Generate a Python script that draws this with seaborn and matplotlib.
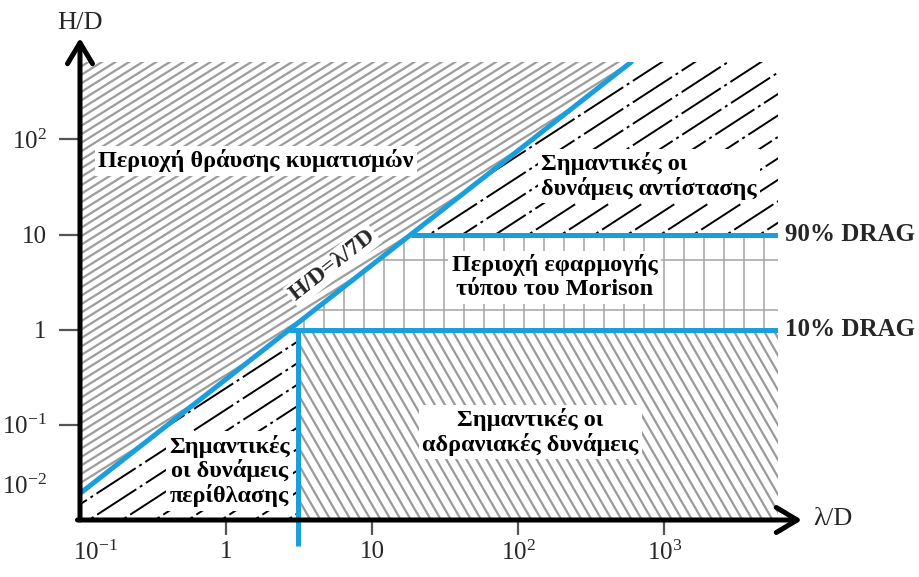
import numpy as np
import matplotlib
matplotlib.use("Agg")
import matplotlib.pyplot as plt
import matplotlib.transforms as mtransforms
from matplotlib.collections import LineCollection
from matplotlib.patches import Polygon
import seaborn as sns

# ---- data -----------------------------------------------------------------
# axis ranges (λ/D horizontally, H/D vertically)
lam_range = [0.1, 6000]
hd_range = [0.01, 650]

# tick values and their labels
lam_ticks = [0.1, 1, 10, 100, 1000]
lam_tick_labels = [r"$10^{-1}$", "1", "10", r"$10^{2}$", r"$10^{3}$"]
hd_ticks = [0.01, 0.1, 1, 10, 100]
hd_tick_labels = [r"$10^{-2}$", r"$10^{-1}$", "1", "10", r"$10^{2}$"]

# wave breaking boundary (labelled H/D=λ/7D); end points of the schematic
# line, which is sketched rather than drawn to scale
break_lam = [0.1, 594]
break_hd = [0.019, 650]

# diffraction limit
diffraction_lam = 3.1

# drag share levels
drag_hd = [1, 10]
drag_labels = ["10% DRAG", "90% DRAG"]

# row lines inside the Morison band
morison_grid_hd = [1.6, 5.4]

# ---- style ----------------------------------------------------------------
sns.set_theme(style="white")
plt.rcParams["font.family"] = ["Liberation Serif", "DejaVu Serif"]
plt.rcParams["mathtext.fontset"] = "custom"
plt.rcParams["mathtext.rm"] = "Liberation Serif"
plt.rcParams["mathtext.it"] = "Liberation Serif:italic"
plt.rcParams["mathtext.bf"] = "Liberation Serif:bold"

BLUE = "#1a9fdc"
FIG_W, FIG_H = 920, 577
AX_X0, AX_X1, AX_Y0, AX_Y1 = 80, 778, 62, 520  # axes box in pixels
AX_W, AX_H = AX_X1 - AX_X0, AX_Y1 - AX_Y0

fig = plt.figure(figsize=(FIG_W / 100, FIG_H / 100), dpi=100)
ax = fig.add_axes([AX_X0 / FIG_W, 1 - AX_Y1 / FIG_H, AX_W / FIG_W, AX_H / FIG_H])
ax.set_xscale("log")
ax.set_yscale("log")
ax.set_xlim(lam_range)
ax.set_ylim(hd_range)
for s in ax.spines.values():
    s.set_visible(False)


def break_lam_at(hd):
    return 10 ** np.interp(np.log10(hd), np.log10(break_hd), np.log10(break_lam))


def hatch_region(verts, angle, spacing, color, lw, ls="-", zorder=2):
    """Fill a polygon white and cover it with parallel lines at a pixel angle."""
    patch = Polygon(verts, closed=True, facecolor="white", edgecolor="none",
                    zorder=zorder - 0.5)
    ax.add_patch(patch)
    t = np.deg2rad(angle)
    d = np.array([np.cos(t), np.sin(t)])
    n = np.array([-np.sin(t), np.cos(t)])
    c = np.array([AX_W / 2, AX_H / 2])
    half = np.hypot(AX_W, AX_H)
    scale = np.array([AX_W, AX_H])
    segs = []
    for k in np.arange(-half, half + spacing, spacing):
        p0 = c + k * n - half * d
        p1 = c + k * n + half * d
        segs.append([p0 / scale, p1 / scale])
    lc = LineCollection(segs, colors=color, linewidths=lw, linestyles=[ls],
                        transform=ax.transAxes, zorder=zorder)
    ax.add_collection(lc, autolim=False)
    lc.set_clip_path(patch)
    return patch


lam_lo, lam_hi = lam_range
hd_lo, hd_hi = hd_range
lam1 = break_lam_at(drag_hd[0])
lam10 = break_lam_at(drag_hd[1])

breaking = [(lam_lo, break_hd[0]), (break_lam[1], hd_hi), (lam_lo, hd_hi)]
drag = [(lam10, drag_hd[1]), (break_lam[1], hd_hi), (lam_hi, hd_hi), (lam_hi, drag_hd[1])]
morison = [(lam1, drag_hd[0]), (lam10, drag_hd[1]), (lam_hi, drag_hd[1]), (lam_hi, drag_hd[0])]
diffraction = [(lam_lo, hd_lo), (lam_lo, break_hd[0]), (lam1, drag_hd[0]),
               (diffraction_lam, drag_hd[0]), (diffraction_lam, hd_lo)]
inertia = [(diffraction_lam, hd_lo), (diffraction_lam, drag_hd[0]),
           (lam_hi, drag_hd[0]), (lam_hi, hd_lo)]

dash = (0, (24, 2.2, 1.5, 2.2))
hatch_region(breaking, 32, 7.2, "#9c9c9c", 1.6)
hatch_region(inertia, -60, 8.7, "#9a9a9a", 1.6)
hatch_region(drag, 33, 18, "black", 1.4, ls=dash)
hatch_region(diffraction, 33, 18, "black", 1.4, ls=dash)
mor = hatch_region(morison, 90, 20, "#a3a3a3", 1.1)
for h in morison_grid_hd:
    ln, = ax.plot(lam_range, [h, h], color="#a3a3a3", lw=1.1, zorder=2)
    ln.set_clip_path(mor)

# ---- boundary lines -------------------------------------------------------
sns.lineplot(x=break_lam, y=break_hd, ax=ax, color=BLUE, lw=3.6, zorder=4,
             sort=False, estimator=None)
ax.plot([lam1, lam_hi], [drag_hd[0]] * 2, color=BLUE, lw=3.6, zorder=4,
        solid_capstyle="butt")
ax.plot([lam10, lam_hi], [drag_hd[1]] * 2, color=BLUE, lw=3.6, zorder=4,
        solid_capstyle="butt")
ax.plot([diffraction_lam, diffraction_lam], [drag_hd[0], 0.0053], color=BLUE,
        lw=3.6, zorder=4, clip_on=False, solid_capstyle="butt")

# ---- axes arrows ----------------------------------------------------------
arrow = dict(arrowstyle="->,head_length=0.75,head_width=0.45", lw=3.6,
             color="black", shrinkA=0, shrinkB=0, mutation_scale=20)
ax.annotate("", xy=(0, 1 + 24 / AX_H), xytext=(0, 0), xycoords="axes fraction",
            arrowprops=arrow, zorder=7, annotation_clip=False)
ax.annotate("", xy=(1 + 24 / AX_W, 0), xytext=(-2.5 / AX_W, 0),
            xycoords="axes fraction", arrowprops=arrow, zorder=7,
            annotation_clip=False)

# ---- ticks ----------------------------------------------------------------
TICK_FS = 18
ax.set_xticks(lam_ticks[1:])
ax.set_xticklabels(lam_tick_labels[1:])
ax.set_yticks(hd_ticks[1:])
ax.set_yticklabels(hd_tick_labels[1:])
ax.minorticks_off()
ax.tick_params(axis="x", direction="out", length=11, width=1.6, color="#555555",
               labelsize=TICK_FS, pad=4, bottom=True)
ax.tick_params(axis="y", direction="out", length=15, width=1.6, color="#555555",
               labelsize=TICK_FS, pad=9, left=True)
ax.annotate(lam_tick_labels[0], xy=(lam_ticks[0], 0),
            xycoords=("data", "axes fraction"), xytext=(11, -15),
            textcoords="offset points", ha="center", va="top",
            fontsize=TICK_FS, annotation_clip=False)
ax.annotate(hd_tick_labels[0], xy=(0, hd_ticks[0]),
            xycoords=("axes fraction", "data"), xytext=(-24, 24),
            textcoords="offset points", ha="right", va="center",
            fontsize=TICK_FS, annotation_clip=False)

fig.text(80 / FIG_W, 1 - 23 / FIG_H, "H/D", ha="center", va="center", fontsize=19)
fig.text(833 / FIG_W, 1 - 519 / FIG_H, "λ/D", ha="center", va="center", fontsize=19)

# ---- region labels --------------------------------------------------------
box = dict(facecolor="white", edgecolor="none", pad=2.5)
lab = dict(fontweight="bold", fontsize=17.5, color="black", zorder=6,
           transform=ax.transAxes, bbox=box, linespacing=1.1)
ax.text(0.252, 0.784, "Περιοχή θράυσης κυματισμών", ha="center", va="center", **lab)
ax.text(0.661, 0.751, "Σημαντικές οι\nδυνάμεις αντίστασης", ha="left", va="center", **lab)
ax.text(0.680, 0.530, "Περιοχή εφαρμογής\nτύπου του Morison", ha="center", va="center",
        **{**lab, "linespacing": 1.2})
ax.text(0.645, 0.192, "Σημαντικές οι\nαδρανιακές δυνάμεις", ha="center", va="center", **lab)
ax.text(0.214, 0.107, "Σημαντικές\nοι δυνάμεις\nπερίθλασης", ha="center", va="center", **lab)

# label along the breaking line, rotated to its on-screen slope
p = ax.transData.transform(np.column_stack([break_lam, break_hd]))
rot = np.degrees(np.arctan2(p[1, 1] - p[0, 1], p[1, 0] - p[0, 0]))
ax.text(0.362, 0.556, "H/D=λ/7D", rotation=rot, ha="center", va="center",
        fontweight="bold", fontsize=17, transform=ax.transAxes, zorder=6,
        bbox=dict(facecolor="white", edgecolor="none", pad=1.5),
        rotation_mode="anchor")

# drag level labels to the right of the box
blend = mtransforms.blended_transform_factory(ax.transAxes, ax.transData)
for h, t in zip(drag_hd, drag_labels):
    ax.text(1.01, h, t, transform=blend, ha="left", va="center", fontsize=18,
            fontweight="bold", clip_on=False)

fig.savefig("out.png", dpi=100, facecolor="white")
